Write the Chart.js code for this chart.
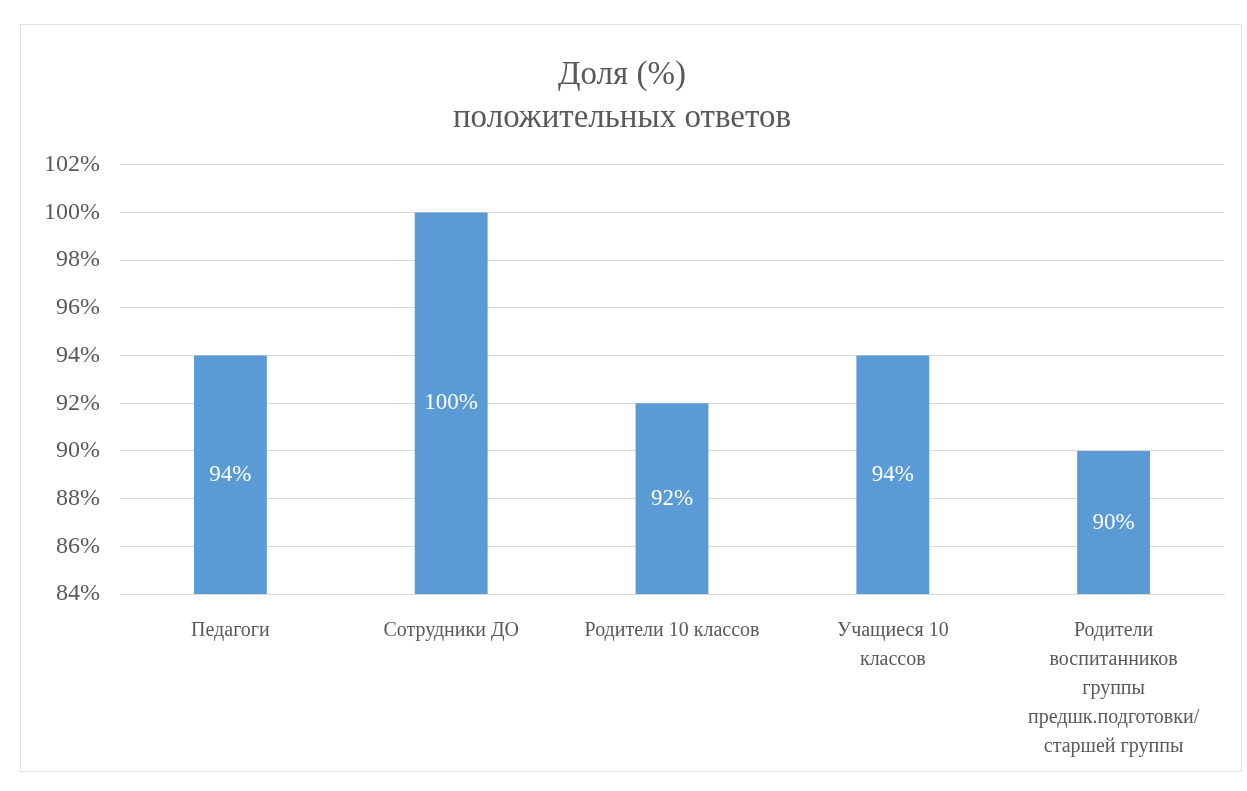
<!DOCTYPE html>
<html>
<head>
<meta charset="utf-8">
<script src="https://cdn.jsdelivr.net/npm/chart.js@4/dist/chart.umd.min.js"></script>
<style>
  html, body { margin: 0; padding: 0; background: #ffffff; }
  #wrap { position: relative; width: 1247px; height: 791px; }
  #frame { position: absolute; left: 20px; top: 24px; width: 1222px; height: 748px; border: 1px solid #e2e2e2; box-sizing: border-box; pointer-events: none; }
  canvas { display: block; }
</style>
</head>
<body>
<div id="wrap">
  <canvas id="c" width="1247" height="791"></canvas>
  <div id="frame"></div>
</div>
<script>
const categories = [
  'Педагоги',
  'Сотрудники ДО',
  'Родители 10 классов',
  ['Учащиеся 10', 'классов'],
  ['Родители', 'воспитанников', 'группы', 'предшк.подготовки/', 'старшей группы']
];
const values = [94, 100, 92, 94, 90];
const titleLines = ['Доля (%)', 'положительных ответов'];
const yMin = 84, yMax = 102, yStep = 2;

const FONT = "'Liberation Serif', 'Times New Roman', serif";
const TXT = '#595959';

const centerLabels = {
  id: 'centerLabels',
  afterDatasetsDraw(chart) {
    const ctx = chart.ctx;
    ctx.save();
    const xs = chart.scales.x;
    const ys = chart.scales.y;
    ctx.fillStyle = '#ffffff';
    ctx.font = '23px "Liberation Serif", serif';
    ctx.textAlign = 'center';
    ctx.textBaseline = 'middle';
    values.forEach((v, i) => {
      const x = xs.getPixelForValue(i);
      const y = (ys.getPixelForValue(v) + ys.getPixelForValue(yMin)) / 2;
      ctx.fillText(Math.round(v) + '%', x, y);
    });
    ctx.restore();
  }
};

new Chart(document.getElementById('c'), {
  type: 'bar',
  data: {
    labels: categories,
    datasets: [{
      data: values,
      backgroundColor: '#5b9bd5',
      borderWidth: 0,
      barPercentage: 0.66,
      categoryPercentage: 0.5
    }]
  },
  options: {
    responsive: false,
    animation: false,
    layout: { padding: { left: 20, right: 23, top: 54, bottom: 8 } },
    plugins: {
      legend: { display: false },
      tooltip: { enabled: false },
      title: {
        display: true,
        text: titleLines,
        color: TXT,
        font: { family: FONT, size: 33, weight: 'normal', lineHeight: 1.3 },
        padding: { top: 0, bottom: 25 }
      }
    },
    scales: {
      x: {
        grid: { display: false, drawTicks: false },
        border: { display: true, color: '#d9d9d9', width: 1 },
        ticks: {
          color: TXT,
          font: { family: FONT, size: 20, lineHeight: 1.45 },
          padding: 22,
          autoSkip: false,
          maxRotation: 0,
          minRotation: 0
        }
      },
      y: {
        min: yMin,
        max: yMax,
        grid: { color: '#d9d9d9', drawTicks: false },
        border: { display: false },
        afterFit(scale) { scale.width = 100; },
        ticks: {
          stepSize: yStep,
          color: TXT,
          padding: 20,
          font: { family: FONT, size: 24 },
          callback: v => v + '%'
        }
      }
    }
  },
  plugins: [centerLabels]
});
</script>
</body>
</html>
